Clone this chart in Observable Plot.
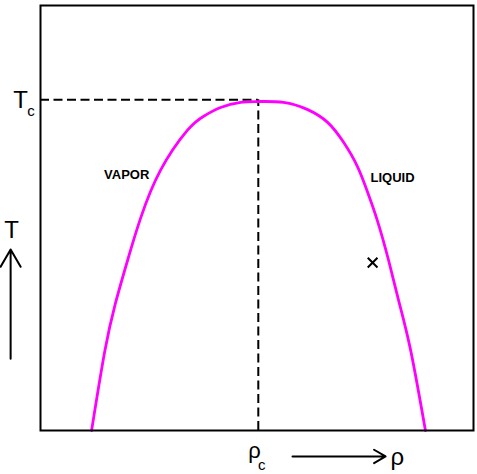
<!DOCTYPE html>
<html>
<head>
<meta charset="utf-8">
<script src="https://cdn.jsdelivr.net/npm/d3@7"></script>
<script src="https://cdn.jsdelivr.net/npm/@observablehq/plot@0.6"></script>
<style>
  html, body { margin: 0; padding: 0; background: #fff; }
</style>
</head>
<body>
<div id="chart"></div>
<script>
// Coexistence curve (density rho vs temperature T), normalized units
const rho = [0.118, 0.148, 0.173, 0.201, 0.231, 0.277, 0.339, 0.376, 0.416, 0.462, 0.503,
             0.561, 0.617, 0.663, 0.700, 0.732, 0.755, 0.778, 0.804, 0.827, 0.855, 0.889];
const temp = [0.000, 0.184, 0.299, 0.400, 0.499, 0.612, 0.706, 0.739, 0.760, 0.772, 0.774,
              0.772, 0.755, 0.725, 0.678, 0.621, 0.562, 0.494, 0.400, 0.306, 0.188, 0.000];

// Critical point
const rhoC = 0.503;
const tC = 0.778;

// Region labels
const regionLabels = ["VAPOR", "LIQUID"];
const regionX = [0.199, 0.813];
const regionY = [0.602, 0.595];

// State point marker
const markerX = [0.767];
const markerY = [0.395];

// Axis annotation texts
const bigTexts = ["T", "T", "\u03C1", "\u03C1"];
const bigX = [-0.046, -0.067, 0.494, 0.824];
const bigY = [0.760, 0.454, -0.064, -0.082];
const bigSize = [24, 24, 22, 24];
const subTexts = ["c", "c"];
const subX = [-0.022, 0.511];
const subY = [0.739, -0.094];

// Arrows (T upward, rho rightward)
const arrowX1 = [-0.069, 0.582];
const arrowY1 = [0.169, -0.061];
const arrowX2 = [-0.069, 0.797];
const arrowY2 = [0.426, -0.061];
const arrowHead = [15, 10];

const curve = rho.map((r, i) => ({rho: r, T: temp[i]}));
const regions = regionLabels.map((t, i) => ({t, x: regionX[i], y: regionY[i]}));
const marker = markerX.map((x, i) => ({x, y: markerY[i]}));
const bigs = bigTexts.map((t, i) => ({t, x: bigX[i], y: bigY[i], s: bigSize[i]}));
const subs = subTexts.map((t, i) => ({t, x: subX[i], y: subY[i]}));
const arrows = arrowX1.map((x1, i) => ({x1, y1: arrowY1[i], x2: arrowX2[i], y2: arrowY2[i], h: arrowHead[i]}));

const chart = Plot.plot({
  width: 477,
  height: 474,
  marginLeft: 40,
  marginRight: 4,
  marginTop: 5,
  marginBottom: 44,
  x: {domain: [0, 1], axis: null},
  y: {domain: [0, 1], axis: null},
  style: {fontFamily: "'Liberation Sans', Arial, sans-serif", overflow: "visible", background: "#fff"},
  marks: [
    Plot.ruleY([tC], {x1: 0, x2: rhoC, stroke: "#000", strokeWidth: 2, strokeDasharray: "9,4.5"}),
    Plot.ruleX([rhoC], {y1: 0, y2: tC, stroke: "#000", strokeWidth: 2, strokeDasharray: "9,4.5"}),
    Plot.line(curve, {x: "rho", y: "T", curve: "natural", stroke: "#ff00ff", strokeWidth: 2.8}),
    Plot.frame({stroke: "#000", strokeWidth: 2}),
    Plot.text(regions, {x: "x", y: "y", text: "t", fontSize: 13, fontWeight: "bold", fill: "#000", textAnchor: "middle", lineAnchor: "middle"}),
    Plot.dot(marker, {x: "x", y: "y", symbol: "times", r: 4.5, stroke: "#000", strokeWidth: 2}),
    ...bigs.map(b => Plot.text([b], {x: "x", y: "y", text: "t", fontSize: b.s, fill: "#000", textAnchor: "middle", lineAnchor: "bottom"})),
    Plot.text(subs, {x: "x", y: "y", text: "t", fontSize: 15, fill: "#000", textAnchor: "middle", lineAnchor: "bottom"}),
    ...arrows.map(a => Plot.arrow([a], {x1: "x1", y1: "y1", x2: "x2", y2: "y2", stroke: "#000", strokeWidth: 2, headLength: a.h, headAngle: 60}))
  ]
});
document.getElementById("chart").appendChild(chart);
</script>
</body>
</html>
